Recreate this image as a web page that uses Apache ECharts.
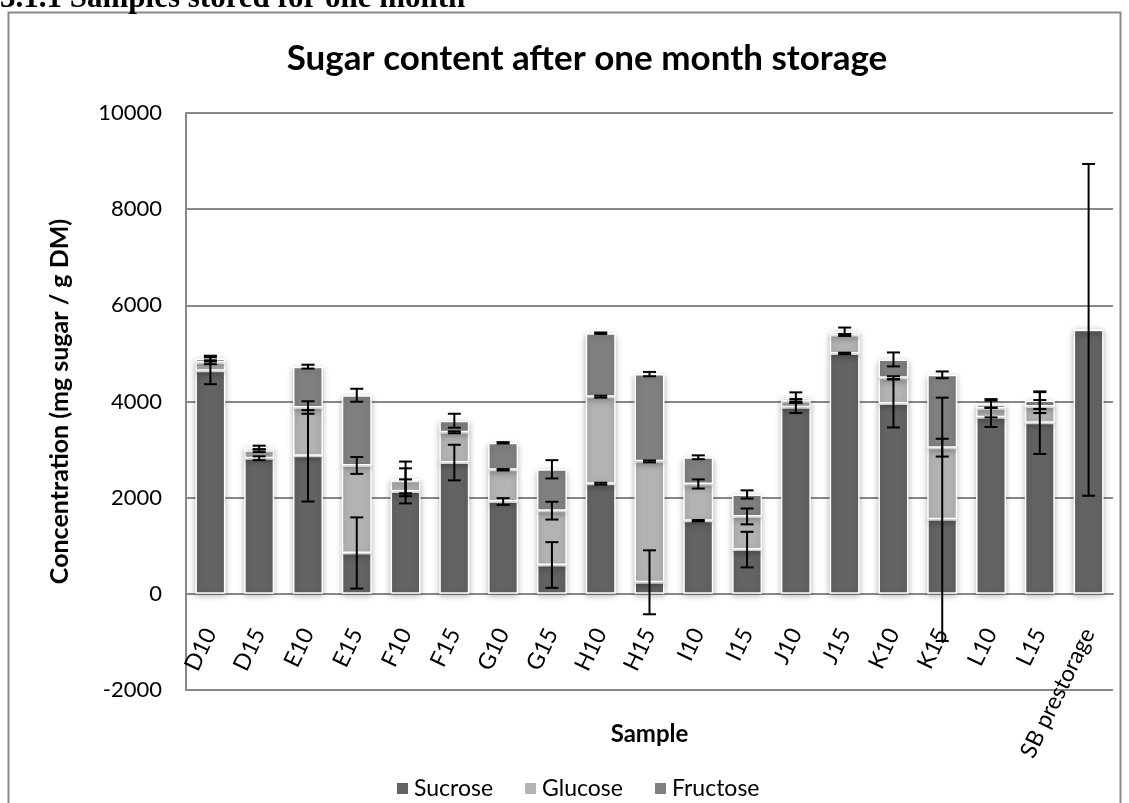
<!DOCTYPE html>
<html>
<head>
<meta charset="utf-8">
<style>
  html, body { margin: 0; padding: 0; background: #fff; }
  #chart { width: 1129px; height: 803px; }
</style>
<script src="https://cdn.jsdelivr.net/npm/echarts@6/dist/echarts.min.js"></script>
</head>
<body>
<div id="chart"></div>
<script>
// Sugar content (mg sugar / g DM) per sample after one month of storage
const categories = ['D10', 'D15', 'E10', 'E15', 'F10', 'F15', 'G10', 'G15', 'H10', 'H15',
  'I10', 'I15', 'J10', 'J15', 'K10', 'K15', 'L10', 'L15', 'SB prestorage'];

const sucrose  = [4640, 2820, 2870, 850, 2130, 2730, 1920, 600, 2290, 240, 1520, 920, 3880, 5000, 3960, 1550, 3670, 3560, 5490];
const glucose  = [177, 158, 1005, 1820, 220, 630, 660, 1130, 1810, 2515, 765, 690, 130, 385, 535, 1490, 190, 335, 0];
const fructose = [75, 63, 850, 1460, 41, 240, 560, 860, 1320, 1815, 555, 457, 70, 68, 380, 1515, 83, 125, 0];

// Standard deviations drawn as error bars at the top of each stacked segment
const sucroseErr  = [280, 40, 950, 740, 250, 370, 70, 475, 20, 665, 15, 370, 120, 15, 500, 2530, 200, 650, 3450];
const glucoseErr  = [40, 30, 130, 175, 260, 20, 15, 185, 20, 20, 95, 165, 40, 20, 30, 185, 190, 135, 0];
const fructoseErr = [60, 40, 40, 135, 360, 145, 15, 190, 15, 45, 40, 85, 110, 85, 145, 70, 75, 175, 0];

const yTicks = { min: -2000, max: 10000, interval: 2000 };

const colors = { sucrose: '#636363', glucose: '#b3b3b3', fructose: '#808080' };
const gridColor = '#888888';
const font = 'Lato, "Open Sans", sans-serif';

// plot box in pixels; the category axis sits on the zero line
const plot = { left: 186, right: 16, top: 113, bottom: 113 };
const zeroOffset = -(803 - plot.top - plot.bottom) * (0 - yTicks.min) / (yTicks.max - yTicks.min);

// error bar points: [category index, stacked top, error]
const errPoints = [];
categories.forEach((c, i) => {
  const t1 = sucrose[i];
  const t2 = t1 + glucose[i];
  const t3 = t2 + fructose[i];
  errPoints.push([i, t1, sucroseErr[i]]);
  if (glucose[i] > 0) errPoints.push([i, t2, glucoseErr[i]]);
  if (fructose[i] > 0) errPoints.push([i, t3, fructoseErr[i]]);
});

function barSeries(name, data, color) {
  return {
    name: name,
    type: 'bar',
    stack: 'sugar',
    data: data,
    barWidth: 30,
    itemStyle: {
      color: color,
      borderColor: '#ffffff',
      borderWidth: 1.5,
      shadowColor: 'rgba(0,0,0,0.28)',
      shadowBlur: 6,
      shadowOffsetY: 2
    },
    emphasis: { disabled: true }
  };
}

const chart = echarts.init(document.getElementById('chart'), null, { renderer: 'canvas' });

chart.setOption({
  animation: false,
  backgroundColor: '#ffffff',
  title: {
    text: 'Sugar content after one month storage',
    left: 582,
    textAlign: 'center',
    top: 36,
    textStyle: { fontFamily: font, fontWeight: 'bold', fontSize: 35, color: '#000' }
  },
  graphic: [
    {
      type: 'text',
      left: 0,
      top: -17,
      style: {
        text: '3.1.1 Samples stored for one month',
        font: 'bold 31px "Liberation Serif", "DejaVu Serif", serif',
        fill: '#000'
      },
      z: 10
    },
    {
      type: 'rect',
      shape: { x: 8.5, y: 12.5, width: 1112, height: 820 },
      style: { fill: 'none', stroke: '#8a8a8a', lineWidth: 2 },
      z: -1
    }
  ],
  legend: {
    data: ['Sucrose', 'Glucose', 'Fructose'],
    left: 390,
    top: 772,
    icon: 'rect',
    itemWidth: 13,
    itemHeight: 13,
    itemGap: 30,
    textStyle: { fontFamily: font, fontSize: 23, color: '#000' }
  },
  grid: {
    left: plot.left, right: plot.right, top: plot.top, bottom: plot.bottom,
    containLabel: false, outerBoundsMode: 'none'
  },
  xAxis: {
    type: 'category',
    data: categories,
    offset: zeroOffset,
    name: 'Sample',
    nameLocation: 'middle',
    nameGap: 128,
    nameMoveOverlap: false,
    nameTextStyle: { fontFamily: font, fontWeight: 'bold', fontSize: 24, color: '#000' },
    axisLine: { onZero: false, lineStyle: { color: gridColor, width: 2 } },
    axisTick: { show: false },
    axisLabel: {
      rotate: 64,
      interval: 0,
      margin: 36,
      fontFamily: font,
      fontSize: 23,
      color: '#000'
    }
  },
  yAxis: {
    type: 'value',
    min: yTicks.min,
    max: yTicks.max,
    interval: yTicks.interval,
    name: 'Concentration (mg sugar / g DM)',
    nameLocation: 'middle',
    nameGap: 114,
    nameMoveOverlap: false,
    nameTextStyle: { fontFamily: font, fontWeight: 'bold', fontSize: 25, color: '#000' },
    axisLine: { show: true, lineStyle: { color: gridColor, width: 2 } },
    axisTick: { show: false },
    axisLabel: {
      fontFamily: font, fontSize: 22, color: '#000', margin: 24,
      formatter: v => String(v)
    },
    splitLine: { lineStyle: { color: gridColor, width: 2 } }
  },
  series: [
    barSeries('Sucrose', sucrose, colors.sucrose),
    barSeries('Glucose', glucose, colors.glucose),
    barSeries('Fructose', fructose, colors.fructose),
    {
      name: 'error',
      type: 'custom',
      data: errPoints,
      z: 10,
      silent: true,
      clip: false,
      renderItem: function (params, api) {
        const i = api.value(0);
        const top = api.value(1);
        const err = api.value(2);
        const hi = api.coord([i, top + err]);
        const lo = api.coord([i, top - err]);
        const cap = 6.5;
        const style = { stroke: '#000', lineWidth: 2, fill: 'none' };
        return {
          type: 'group',
          children: [
            { type: 'line', shape: { x1: hi[0], y1: hi[1], x2: lo[0], y2: lo[1] }, style: style },
            { type: 'line', shape: { x1: hi[0] - cap, y1: hi[1], x2: hi[0] + cap, y2: hi[1] }, style: style },
            { type: 'line', shape: { x1: lo[0] - cap, y1: lo[1], x2: lo[0] + cap, y2: lo[1] }, style: style }
          ]
        };
      }
    }
  ]
});
</script>
</body>
</html>
